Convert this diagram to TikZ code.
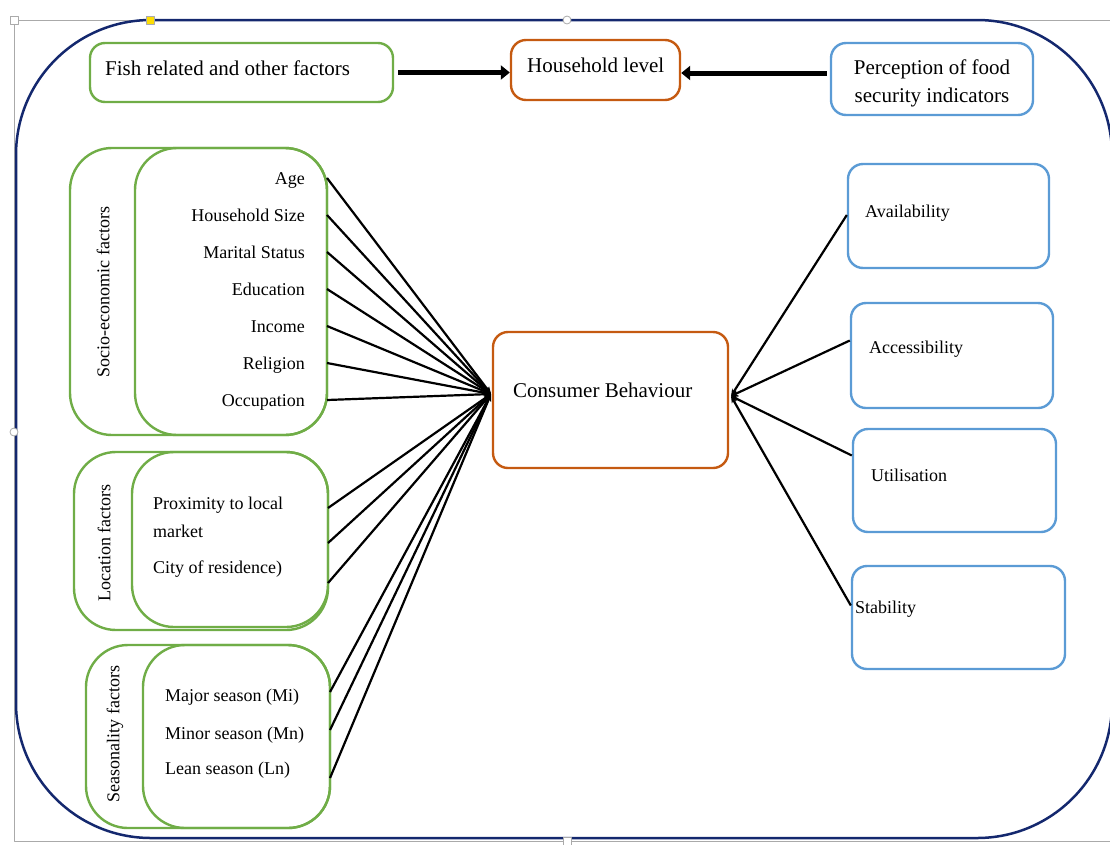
\documentclass[tikz,border=0pt]{standalone}
\usepackage{fontspec}
\setmainfont{Liberation Serif}
\usetikzlibrary{arrows.meta}
\definecolor{boxgreen}{RGB}{112,173,71}
\definecolor{boxorange}{RGB}{197,90,17}
\definecolor{boxblue}{RGB}{91,155,213}
\definecolor{framenavy}{RGB}{20,40,110}
\definecolor{handlegray}{RGB}{170,170,170}

\begin{document}
\begin{tikzpicture}[x=1pt,y=-1pt,line join=round]
\tikzstyle{box}=[draw,line width=2.4pt,rounded corners=15pt,inner sep=0pt]
\tikzstyle{green box}=[box,draw=boxgreen]
\tikzstyle{orange box}=[box,draw=boxorange]
\tikzstyle{blue box}=[box,draw=boxblue]
\tikzstyle{group}=[draw=boxgreen,line width=2.4pt,rounded corners=42pt,inner sep=0pt]
\tikzstyle{big}=[font=\fontsize{21}{28}\selectfont,inner sep=0pt]
\tikzstyle{small}=[font=\fontsize{18}{22}\selectfont,inner sep=0pt]
\tikzstyle{link}=[-{Stealth[length=7pt,width=6pt]},line width=2.2pt]
\tikzstyle{fat arrow}=[-{Triangle[length=9pt,width=14pt]},line width=5pt]
\tikzstyle{handle}=[draw=handlegray,fill=white,line width=0.8pt,minimum size=8pt,inner sep=0pt]

\useasboundingbox (0,0) rectangle (1110,844);

% Frame
\draw[handlegray,line width=1pt] (1110,20) -- (14,20) -- (14,841) -- (1110,841);
\draw[framenavy,line width=2.5pt,rounded corners=135pt] (16,20) rectangle (1112,838);
\node[handle] (h-1) at (14,20) {};
\node[handle,fill=yellow!80!orange] (h-2) at (150,20) {};
\node[handle,circle] (h-3) at (567,20) {};
\node[handle,circle] (h-4) at (14,432) {};
\node[handle] (h-5) at (567,841) {};

% Top row
\node[green box,minimum width=303pt,minimum height=59pt] (Fish) at (241.5,72.5) {};
\node[big,anchor=base west] (Fish-t) at (105,75) {Fish related and other factors};
\node[orange box,minimum width=169pt,minimum height=60pt] (HH) at (595.5,70) {};
\node[big,anchor=base west] (HH-t) at (527,72) {Household level};
\node[blue box,minimum width=202pt,minimum height=72pt] (Perc) at (932,79) {};
\node[big,anchor=base] (Perc-t1) at (932,74) {Perception of food};
\node[big,anchor=base] (Perc-t2) at (932,102) {security indicators};

\draw[fat arrow] (Fish.east) ++(4,0) coordinate (Fish-out) -- (HH.west |- Fish-out);
\draw[fat arrow] (Perc.west) ++(-3,-6) coordinate (Perc-out) -- (HH.east |- Perc-out);

% Consumer behaviour
\node[orange box,minimum width=235pt,minimum height=136pt] (CB) at (610.5,400) {};
\node[big,anchor=base west] (CB-t) at (513,397) {Consumer Behaviour};
\coordinate (CB-in) at (491,394);
\coordinate (CB-out) at (731,396);

% Socio-economic factors
\node[group,minimum width=257pt,minimum height=287pt] (SE) at (198.5,291.5) {};
\node[group,minimum width=192pt,minimum height=287pt] (SE-in) at (231,291.5) {};
\node[small,rotate=90] (SE-l) at (103,292) {Socio-economic factors};
\foreach \name / \y in {1/Age,2/Household Size,3/Marital Status,4/Education,5/Income,6/Religion,7/Occupation}
{
\node[small,anchor=base east] (SE-\name) at (305,{184+37*(\name-1)}) {\y};
\coordinate (SEp-\name) at (327,{178+37*(\name-1)});
\draw[link] (SEp-\name) -- (CB-in);
}

% Location factors
\node[group,minimum width=254pt,minimum height=178pt] (Loc) at (201,541) {};
\node[group,minimum width=196pt,minimum height=175pt] (Loc-in) at (230,539.5) {};
\node[small,rotate=90] (Loc-l) at (104,543) {Location factors};
\node[small,anchor=base west] (Loc-1) at (153,509) {Proximity to local};
\node[small,anchor=base west] (Loc-2) at (153,537) {market};
\node[small,anchor=base west] (Loc-3) at (153,573) {City of residence)};
\foreach \name / \y in {1/508,2/543,3/583}
{
\coordinate (Locp-\name) at (328,\y);
\draw[link] (Locp-\name) -- (CB-in);
}

% Seasonality factors
\node[group,minimum width=244pt,minimum height=183pt] (Sea) at (208,736.5) {};
\node[group,minimum width=187pt,minimum height=183pt] (Sea-in) at (236.5,736.5) {};
\node[small,rotate=90] (Sea-l) at (115,734) {Seasonality factors};
\node[small,anchor=base west] (Sea-1) at (165,701) {Major season (Mi)};
\node[small,anchor=base west] (Sea-2) at (165,739) {Minor season (Mn)};
\node[small,anchor=base west] (Sea-3) at (165,774) {Lean season (Ln)};
\foreach \name / \y in {1/692,2/730,3/778}
{
\coordinate (Seap-\name) at (330,\y);
\draw[link] (Seap-\name) -- (CB-in);
}

% Food security indicators
\node[blue box,minimum width=201pt,minimum height=104pt] (Av) at (948.5,216) {};
\node[small,anchor=base west] (Av-t) at (865,217) {Availability};
\node[blue box,minimum width=202pt,minimum height=105pt] (Ac) at (952,355.5) {};
\node[small,anchor=base west] (Ac-t) at (869,353) {Accessibility};
\node[blue box,minimum width=203pt,minimum height=103pt] (Ut) at (954.5,480.5) {};
\node[small,anchor=base west] (Ut-t) at (871,481) {Utilisation};
\node[blue box,minimum width=213pt,minimum height=103pt] (St) at (958.5,617.5) {};
\node[small,anchor=base west] (St-t) at (855,613) {Stability};

\foreach \name / \dy in {Av/-1,Ac/-15,Ut/-25,St/-12}
\draw[link] ([yshift=-\dy pt]\name.west) -- (CB-out);

\end{tikzpicture}
\end{document}
